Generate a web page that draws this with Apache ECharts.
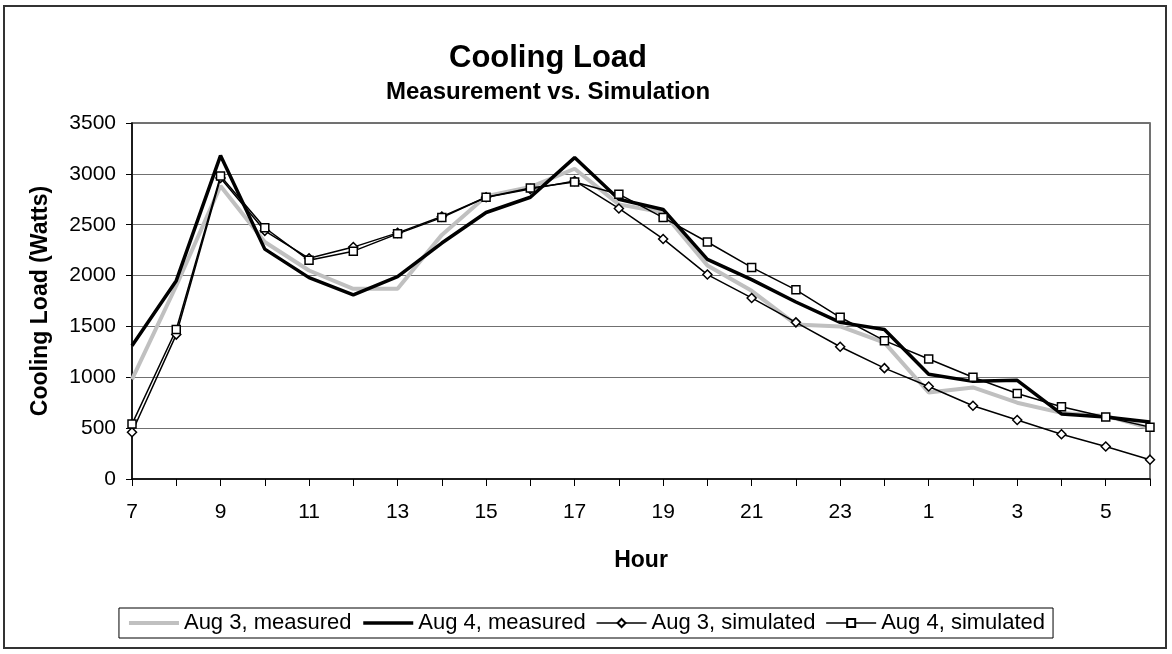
<!DOCTYPE html>
<html>
<head>
<meta charset="utf-8">
<script src="https://cdn.jsdelivr.net/npm/echarts@6/dist/echarts.min.js"></script>
<style>
  html, body { margin: 0; padding: 0; background: #fff; }
  #chart { width: 1172px; height: 654px; }
</style>
</head>
<body>
<div id="chart"></div>
<script>
const hours = ['7','8','9','10','11','12','13','14','15','16','17','18','19','20','21','22','23','24','1','2','3','4','5','6'];
const aug3Measured = [980,1900,2880,2330,2050,1870,1870,2400,2780,2870,3050,2700,2620,2100,1850,1520,1500,1340,850,900,750,650,620,500];
const aug4Measured = [1310,1950,3180,2260,1980,1810,1990,2320,2620,2770,3160,2750,2650,2160,1960,1740,1540,1470,1030,960,970,640,610,560];
const aug3Simulated = [460,1420,2960,2440,2170,2280,2420,2580,2770,2850,2930,2660,2360,2010,1780,1540,1300,1090,910,720,580,440,320,190];
const aug4Simulated = [540,1470,2980,2470,2150,2240,2410,2570,2770,2860,2920,2800,2570,2330,2080,1860,1590,1360,1180,1000,840,710,610,510];

const font = 'Liberation Sans, Arial, sans-serif';
const chart = echarts.init(document.getElementById('chart'));

// measured lines have no marker in the legend
const noMarker = { color: 'rgba(0,0,0,0)', borderWidth: 0 };

chart.setOption({
  backgroundColor: '#fff',
  animation: false,
  graphic: [{
    type: 'rect',
    shape: { x: 4, y: 6, width: 1162, height: 642 },
    style: { fill: 'none', stroke: '#333', lineWidth: 2 }
  }],
  title: {
    text: 'Cooling Load',
    subtext: 'Measurement vs. Simulation',
    left: 543,
    textAlign: 'center',
    top: 38,
    itemGap: 6,
    textStyle: { fontFamily: font, fontSize: 31, fontWeight: 'bold', color: '#000' },
    subtextStyle: { fontFamily: font, fontSize: 24, fontWeight: 'bold', color: '#000' }
  },
  legend: {
    bottom: 16,
    left: 'center',
    itemGap: 10,
    itemWidth: 50,
    itemHeight: 10,
    borderColor: '#000',
    borderWidth: 1,
    padding: [4, 8],
    textStyle: { fontFamily: font, fontSize: 22, color: '#000' },
    data: [
      { name: 'Aug 3, measured', itemStyle: noMarker, lineStyle: { width: 4, color: '#c0c0c0' } },
      { name: 'Aug 4, measured', itemStyle: noMarker, lineStyle: { width: 3.5, color: '#000' } },
      { name: 'Aug 3, simulated', lineStyle: { width: 1.5, color: '#000' } },
      { name: 'Aug 4, simulated', lineStyle: { width: 1.5, color: '#000' } }
    ]
  },
  grid: {
    left: 132, right: 22, top: 123, bottom: 175,
    show: true, borderColor: '#444', borderWidth: 1.5
  },
  xAxis: {
    type: 'category',
    data: hours,
    boundaryGap: false,
    name: 'Hour',
    nameLocation: 'middle',
    nameGap: 70,
    nameTextStyle: { fontFamily: font, fontSize: 23, fontWeight: 'bold', color: '#000' },
    axisLine: { lineStyle: { color: '#000', width: 1.5 } },
    axisTick: { interval: 0, length: 7, lineStyle: { color: '#000' } },
    axisLabel: { interval: 1, margin: 23, fontFamily: font, fontSize: 21, color: '#000' }
  },
  yAxis: {
    type: 'value',
    min: 0,
    max: 3500,
    interval: 500,
    name: 'Cooling Load (Watts)',
    nameLocation: 'middle',
    nameGap: 80,
    nameTextStyle: { fontFamily: font, fontSize: 23, fontWeight: 'bold', color: '#000' },
    axisLine: { show: true, lineStyle: { color: '#000', width: 1.5 } },
    axisTick: { show: true, length: 6, lineStyle: { color: '#000' } },
    axisLabel: { margin: 16, fontFamily: font, fontSize: 21, color: '#000', formatter: v => String(v) },
    splitLine: { lineStyle: { color: '#707070', width: 1 } }
  },
  series: [
    {
      name: 'Aug 3, measured', type: 'line', data: aug3Measured,
      symbol: 'none', lineStyle: { color: '#c0c0c0', width: 4 }, itemStyle: { color: '#c0c0c0' }
    },
    {
      name: 'Aug 4, measured', type: 'line', data: aug4Measured,
      symbol: 'none', lineStyle: { color: '#000', width: 3.5 }, itemStyle: { color: '#000' }
    },
    {
      name: 'Aug 3, simulated', type: 'line', data: aug3Simulated,
      symbol: 'diamond', symbolSize: 9,
      lineStyle: { color: '#000', width: 1.5 },
      itemStyle: { color: '#fff', borderColor: '#000', borderWidth: 1.5 }
    },
    {
      name: 'Aug 4, simulated', type: 'line', data: aug4Simulated,
      symbol: 'rect', symbolSize: 8,
      lineStyle: { color: '#000', width: 1.5 },
      itemStyle: { color: '#fff', borderColor: '#000', borderWidth: 1.5 }
    }
  ]
});
</script>
</body>
</html>
